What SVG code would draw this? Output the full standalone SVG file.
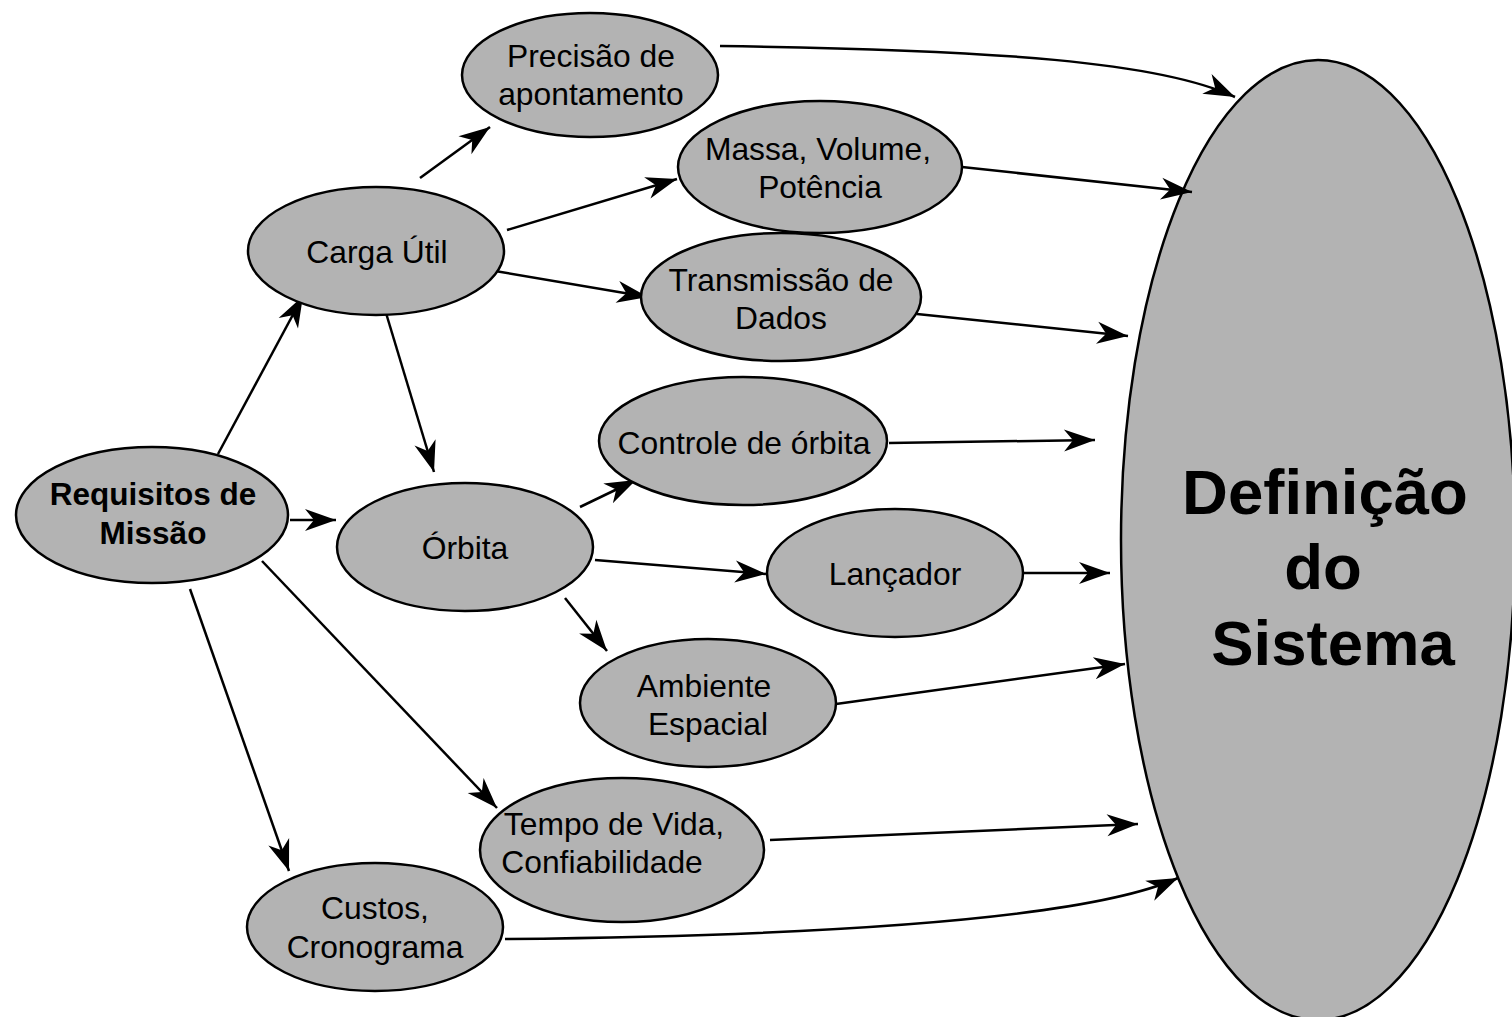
<svg xmlns="http://www.w3.org/2000/svg" width="1512" height="1017" viewBox="0 0 1512 1017">
  <defs>
    <style>
      .node ellipse { fill: #b3b3b3; stroke: #000; stroke-width: 2.5; }
      .node text { font-family: "Liberation Sans", Arial, sans-serif; font-size: 31.8px; fill: #000; text-anchor: middle; }
      .node text.bold { font-weight: bold; font-size: 31.5px; }
      .node text.big { font-weight: bold; font-size: 63.5px; }
      .edges path { fill: none; stroke: #000; stroke-width: 2.5; marker-end: url(#stealth); }
    </style>
    <marker id="stealth" markerUnits="userSpaceOnUse" viewBox="-32 -13 34 26" markerWidth="34" markerHeight="26" refX="0" refY="0" orient="auto">
      <path d="M0,0 L-31,-11 L-22,0 L-31,11 Z" fill="#000"/>
    </marker>
  </defs>
  <rect width="1512" height="1017" fill="#fff"/>

  <g id="definicao" class="node">
    <ellipse cx="1318" cy="540" rx="197" ry="480"/>
    <text class="big" x="1325" y="514">Definição</text>
    <text class="big" x="1323" y="589">do</text>
    <text class="big" x="1333" y="665">Sistema</text>
  </g>

  <g class="edges" id="connectors">
    <path d="M720,46 C1000,50 1160,62 1235,97"/>
    <path d="M962,167 L1192,192"/>
    <path d="M917,314 L1128,336"/>
    <path d="M889,443 L1095,440"/>
    <path d="M1024,573 L1110,573"/>
    <path d="M836,704 L1125,664"/>
    <path d="M770,840 L1138,824"/>
    <path d="M505,939 C800,936 1080,922 1178,878"/>
    <path d="M420,178 L490,127"/>
    <path d="M507,230 L677,179"/>
    <path d="M495,271 L648,297"/>
    <path d="M386,313 L434,472"/>
    <path d="M218,454 L303,296"/>
    <path d="M290,520 L336,520"/>
    <path d="M580,507 L636,480"/>
    <path d="M595,560 L766,574"/>
    <path d="M565,598 L607,651"/>
    <path d="M262,561 L497,808"/>
    <path d="M190,589 L289,871"/>
  </g>

  <g id="precisao" class="node">
    <ellipse cx="590" cy="75" rx="128" ry="62"/>
    <text x="591" y="67">Precisão de</text>
    <text x="591" y="105">apontamento</text>
  </g>
  <g id="massa" class="node">
    <ellipse cx="820" cy="167" rx="142" ry="66"/>
    <text x="818" y="160">Massa, Volume,</text>
    <text x="820" y="198">Potência</text>
  </g>
  <g id="carga" class="node">
    <ellipse cx="376" cy="251" rx="128" ry="64"/>
    <text x="377" y="263">Carga Útil</text>
  </g>
  <g id="transmissao" class="node">
    <ellipse cx="781" cy="297" rx="140" ry="64"/>
    <text x="781" y="291">Transmissão de</text>
    <text x="781" y="329">Dados</text>
  </g>
  <g id="controle" class="node">
    <ellipse cx="743" cy="441" rx="144" ry="64"/>
    <text x="744" y="454">Controle de órbita</text>
  </g>
  <g id="requisitos" class="node">
    <ellipse cx="152" cy="515" rx="136" ry="68"/>
    <text class="bold" x="153" y="505">Requisitos de</text>
    <text class="bold" x="153" y="544">Missão</text>
  </g>
  <g id="orbita" class="node">
    <ellipse cx="465" cy="547" rx="128" ry="64"/>
    <text x="465" y="559">Órbita</text>
  </g>
  <g id="lancador" class="node">
    <ellipse cx="895" cy="573" rx="128" ry="64"/>
    <text x="895" y="585">Lançador</text>
  </g>
  <g id="ambiente" class="node">
    <ellipse cx="708" cy="703" rx="128" ry="64"/>
    <text x="704" y="697">Ambiente</text>
    <text x="708" y="735">Espacial</text>
  </g>
  <g id="tempo" class="node">
    <ellipse cx="622" cy="850" rx="142" ry="72"/>
    <text x="614" y="835">Tempo de Vida,</text>
    <text x="602" y="873">Confiabilidade</text>
  </g>
  <g id="custos" class="node">
    <ellipse cx="375" cy="927" rx="128" ry="64"/>
    <text x="375" y="919">Custos,</text>
    <text x="375" y="958">Cronograma</text>
  </g>
</svg>
